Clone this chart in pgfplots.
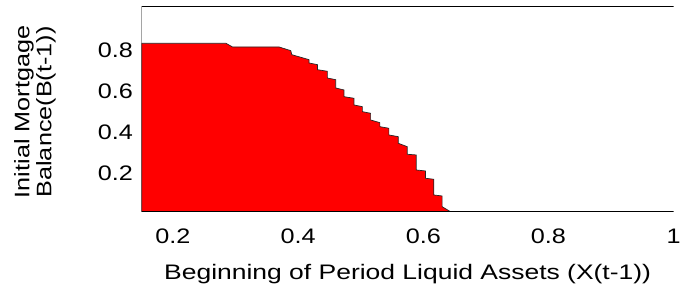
\documentclass[border=0pt]{standalone}
\usepackage{fontspec}
\setmainfont{Liberation Sans}[FakeStretch=1.2]
\newfontfamily\xlabfont{Liberation Sans}[FakeStretch=1.26]
\usepackage{pgfplots}
\pgfplotsset{compat=1.18}
\begin{document}%
\fontsize{21}{22}\selectfont%
\begin{tikzpicture}
\begin{axis}[
  at={(141.7pt,77.3pt)}, anchor=south west,
  scale only axis, width=531.9pt, height=205.7pt,
  xmin=0.15, xmax=1, ymin=0.013, ymax=1.014,
  xtick={0.2,0.4,0.6,0.8,1}, ytick={0.2,0.4,0.6,0.8},
  major tick length=0pt,
  /pgf/number format/assume math mode=true,
  axis line style={draw=none},
  xticklabel style={anchor=base, yshift=-31.3pt, inner sep=0pt},
  yticklabel style={anchor=east, xshift=-8.7pt, inner sep=0pt},
  xlabel={\xlabfont Beginning of Period Liquid Assets (X(t-1))},
  xlabel style={at={(axis description cs:0.5,0)}, anchor=base, yshift=-67.3pt, inner sep=0pt},
]
\addplot[fill=red, draw=black!85, line width=0.7pt] coordinates {
(0.15,0.013) (0.15,0.8326) (0.2845,0.8326) (0.2952,0.8146) (0.3695,0.8146)
(0.3882,0.7966) (0.3898,0.7771) (0.4174,0.7528) (0.4174,0.7367) (0.4308,0.7285)
(0.4308,0.7041) (0.4467,0.6963) (0.4467,0.6637) (0.46,0.6555) (0.46,0.6151)
(0.4732,0.6054) (0.4732,0.5727) (0.4892,0.565) (0.4892,0.5324) (0.5026,0.5241)
(0.5026,0.4998) (0.5158,0.492) (0.5158,0.4594) (0.5306,0.4462) (0.5306,0.4268)
(0.545,0.419) (0.545,0.3864) (0.56,0.3781) (0.56,0.346) (0.5743,0.3294)
(0.5743,0.2925) (0.5887,0.2891) (0.5887,0.2161) (0.6035,0.2112) (0.6035,0.1757)
(0.6168,0.1708) (0.6168,0.0944) (0.6301,0.0895) (0.6301,0.0375) (0.6434,0.013)
} --cycle;
\draw[black, line width=0.9pt] (rel axis cs:1,1) -- (rel axis cs:0,1) -- (rel axis cs:0,0) -- (rel axis cs:1,0);
\end{axis}
\node[rotate=90, anchor=south, align=center, inner sep=0pt] at (56pt,177pt) {Initial Mortgage\\Balance(B(t-1))};
\pgfresetboundingbox
\path[use as bounding box] (0,0) rectangle (687pt,289pt);
\end{tikzpicture}%
\end{document}
